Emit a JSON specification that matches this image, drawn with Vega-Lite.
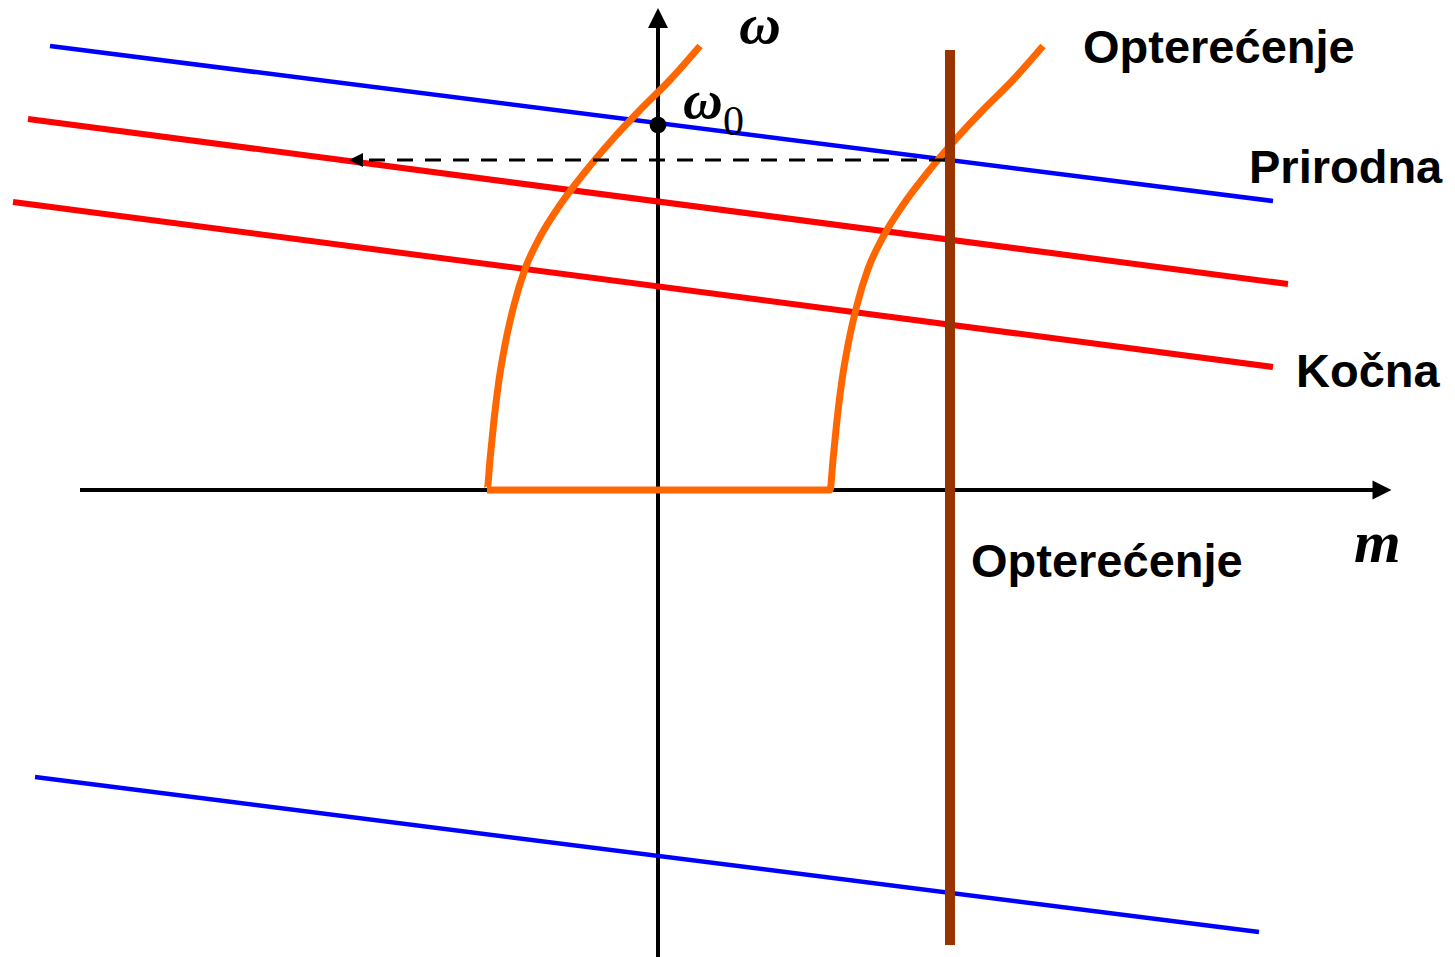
{
  "$schema": "https://vega.github.io/schema/vega-lite/v6.json",
  "width": 1455,
  "height": 957,
  "autosize": {"type": "none"},
  "padding": 0,
  "background": "white",
  "config": {"view": {"stroke": null}},
  "datasets": {
    "characteristics": [
      {"id": "prirodna_top", "k": 0, "m": -608, "w": 444},
      {"id": "prirodna_top", "k": 1, "m": 615, "w": 289},
      {"id": "prirodna_bottom", "k": 0, "m": -623, "w": -287},
      {"id": "prirodna_bottom", "k": 1, "m": 601, "w": -442},
      {"id": "kocna_1", "k": 0, "m": -630, "w": 371},
      {"id": "kocna_1", "k": 1, "m": 630, "w": 206},
      {"id": "kocna_2", "k": 0, "m": -645, "w": 288},
      {"id": "kocna_2", "k": 1, "m": 615, "w": 123}
    ],
    "axes": [
      {"id": "m_axis", "k": 0, "m": -578, "w": 0},
      {"id": "m_axis", "k": 1, "m": 718, "w": 0},
      {"id": "w_axis", "k": 0, "m": 0, "w": -467},
      {"id": "w_axis", "k": 1, "m": 0, "w": 468}
    ],
    "load_active": [
      {"k": 0, "m": 292, "w": 440},
      {"k": 1, "m": 292, "w": -455}
    ],
    "load_lift": [
      {"k": 0, "m": 42, "w": 444},
      {"k": 1, "m": 12, "w": 410},
      {"k": 2, "m": -18, "w": 380},
      {"k": 3, "m": -46, "w": 350},
      {"k": 4, "m": -73, "w": 318},
      {"k": 5, "m": -98, "w": 285},
      {"k": 6, "m": -118, "w": 253},
      {"k": 7, "m": -133, "w": 221},
      {"k": 8, "m": -144, "w": 185},
      {"k": 9, "m": -153, "w": 145},
      {"k": 10, "m": -159, "w": 110},
      {"k": 11, "m": -164, "w": 70},
      {"k": 12, "m": -168, "w": 30},
      {"k": 13, "m": -171, "w": 0},
      {"k": 14, "m": 172, "w": 0},
      {"k": 15, "m": 175, "w": 30},
      {"k": 16, "m": 179, "w": 70},
      {"k": 17, "m": 184, "w": 110},
      {"k": 18, "m": 190, "w": 145},
      {"k": 19, "m": 199, "w": 185},
      {"k": 20, "m": 210, "w": 221},
      {"k": 21, "m": 225, "w": 253},
      {"k": 22, "m": 245, "w": 285},
      {"k": 23, "m": 270, "w": 318},
      {"k": 24, "m": 297, "w": 350},
      {"k": 25, "m": 325, "w": 380},
      {"k": 26, "m": 355, "w": 410},
      {"k": 27, "m": 385, "w": 444}
    ],
    "transition": [
      {"k": 0, "m": 287, "w": 330},
      {"k": 1, "m": -292, "w": 330}
    ],
    "arrowheads": [
      {"dir": "up", "m": 0, "w": 472},
      {"dir": "right", "m": 724, "w": 0}
    ],
    "labels": [
      {"label": "Opterećenje", "m": 425, "w": 427},
      {"label": "Prirodna", "m": 591, "w": 307},
      {"label": "Kočna", "m": 638, "w": 103},
      {"label": "Opterećenje", "m": 313, "w": -87}
    ],
    "symbols": [
      {"label": "ω", "m": 81, "w": 447, "size": 58},
      {"label": "m", "m": 696, "w": -72, "size": 60},
      {"label": "ω", "m": 25, "w": 372, "size": 55}
    ]
  },
  "encoding": {
    "x": {"field": "m", "type": "quantitative", "scale": {"domain": [-658, 797], "nice": false, "zero": false}, "axis": null},
    "y": {"field": "w", "type": "quantitative", "scale": {"domain": [-467, 490], "nice": false, "zero": false}, "axis": null}
  },
  "layer": [
    {
      "data": {"name": "axes"},
      "mark": {"type": "line", "color": "black", "strokeWidth": 4, "strokeCap": "butt"},
      "encoding": {"detail": {"field": "id"}, "order": {"field": "k"}}
    },
    {
      "data": {"name": "arrowheads"},
      "transform": [{"filter": "datum.dir === 'up'"}],
      "mark": {"type": "point", "shape": "M0,-1L1,1L-1,1Z", "size": 400, "filled": true, "color": "black", "opacity": 1, "strokeWidth": 0}
    },
    {
      "data": {"name": "arrowheads"},
      "transform": [{"filter": "datum.dir === 'right'"}],
      "mark": {"type": "point", "shape": "M1,0L-1,-1L-1,1Z", "size": 361, "filled": true, "color": "black", "opacity": 1, "strokeWidth": 0}
    },
    {
      "data": {"name": "characteristics"},
      "transform": [{"filter": "indexof(datum.id, 'prirodna') === 0"}],
      "mark": {"type": "line", "color": "#0000FF", "strokeWidth": 4.5},
      "encoding": {"detail": {"field": "id"}, "order": {"field": "k"}}
    },
    {
      "data": {"name": "characteristics"},
      "transform": [{"filter": "indexof(datum.id, 'kocna') === 0"}],
      "mark": {"type": "line", "color": "#FF0000", "strokeWidth": 6},
      "encoding": {"detail": {"field": "id"}, "order": {"field": "k"}}
    },
    {
      "data": {"name": "load_lift"},
      "mark": {"type": "line", "color": "#FF6600", "strokeWidth": 7, "strokeJoin": "miter", "interpolate": "monotone"},
      "encoding": {"order": {"field": "k"}}
    },
    {
      "data": {"name": "load_active"},
      "mark": {"type": "line", "color": "#993300", "strokeWidth": 10, "strokeCap": "butt"},
      "encoding": {"order": {"field": "k"}}
    },
    {
      "data": {"name": "transition"},
      "mark": {"type": "line", "color": "black", "strokeWidth": 3, "strokeDash": [16, 12]},
      "encoding": {"order": {"field": "k"}}
    },
    {
      "data": {"values": [{"m": -302, "w": 330}]},
      "mark": {"type": "point", "shape": "M-1,0L1,-1L1,1Z", "size": 196, "filled": true, "color": "black", "opacity": 1, "strokeWidth": 0}
    },
    {
      "data": {"values": [{"m": 0, "w": 365}]},
      "mark": {"type": "point", "shape": "circle", "size": 280, "filled": true, "color": "black", "opacity": 1, "strokeWidth": 0}
    },
    {
      "data": {"name": "labels"},
      "mark": {"type": "text", "font": "Liberation Sans", "fontWeight": "bold", "fontSize": 47, "align": "left", "baseline": "alphabetic", "color": "black"},
      "encoding": {"text": {"field": "label"}}
    },
    {
      "data": {"name": "symbols"},
      "mark": {"type": "text", "font": "Liberation Serif", "fontWeight": "bold", "fontStyle": "italic", "align": "left", "baseline": "alphabetic", "color": "black"},
      "encoding": {"text": {"field": "label"}, "size": {"field": "size", "type": "quantitative", "scale": null}}
    },
    {
      "data": {"values": [{"label": "0", "m": 65, "w": 355}]},
      "mark": {"type": "text", "font": "Liberation Serif", "fontSize": 42, "align": "left", "baseline": "alphabetic", "color": "black"},
      "encoding": {"text": {"field": "label"}}
    }
  ]
}
